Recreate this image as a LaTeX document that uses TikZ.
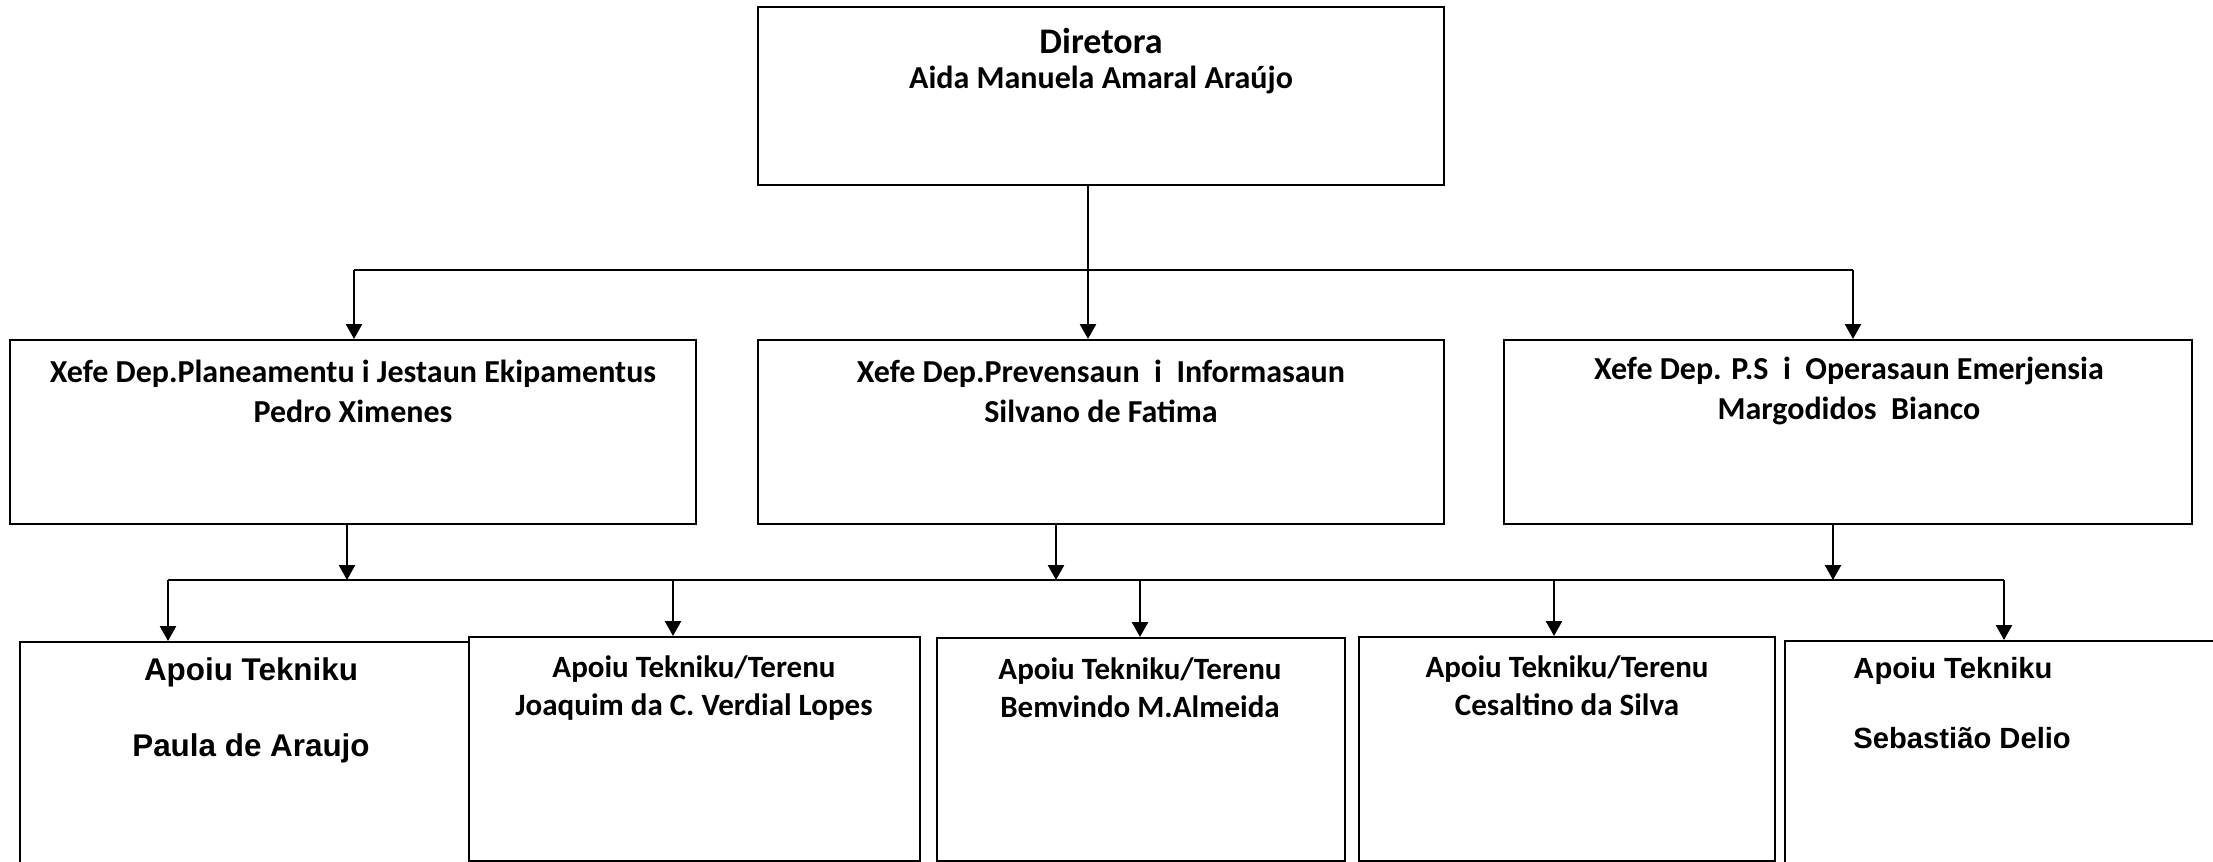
\documentclass[tikz,border=0pt]{standalone}
\usepackage{fontspec}
\setmainfont{Carlito}
\newfontfamily\arialf{Liberation Sans}
\usetikzlibrary{arrows.meta}
\begin{document}
\begin{tikzpicture}[x=0.5pt,y=-0.5pt,
  box/.style={draw, line width=1pt, fill=white, inner sep=0pt},
  conn/.style={line width=1pt},
  arr/.style={line width=1.3pt, -{Triangle[length=7.5pt,width=8pt]}},
  cal/.style={font=\bfseries\fontsize{16}{20}\selectfont, align=center, inner sep=0pt},
  calsm/.style={font=\bfseries\fontsize{15.5}{19}\selectfont, align=center, inner sep=0pt},
  ari/.style={font=\arialf\bfseries, inner sep=0pt}]
\useasboundingbox (0,0) rectangle (2213,862);
\clip (0,0) rectangle (2213,862);
% top
\node[box, minimum width=343pt, minimum height=89pt] (dir) at (1101,96) {};
\node[inner sep=0pt, font=\bfseries\fontsize{18}{20}\selectfont] (dirT) at (1101,41) {Diretora};
\node[cal] (dirN) at (1101,80) {Aida Manuela Amaral Araújo};
% middle
\node[box, minimum width=343pt, minimum height=92pt] (m1) at (353,432) {};
\node[box, minimum width=343pt, minimum height=92pt] (m2) at (1101,432) {};
\node[box, minimum width=344pt, minimum height=92pt] (m3) at (1848,432) {};
\node[cal] (t1) at (353,391) {Xefe Dep.Planeamentu i Jestaun Ekipamentus\\Pedro Ximenes};
\node[cal] (t2) at (1101,391) {Xefe Dep.Prevensaun\ \ i\ \ Informasaun\\Silvano de Fatima};
\node[cal] (t3) at (1849,391) {Xefe Dep. P.S\ \ i\ \ Operasaun Emerjensia\\Margodidos\ \ Bianco};
% bottom
\node[box, minimum width=224.5pt, minimum height=129pt] (b1) at (244.5,771) {};
\node[box, minimum width=225.5pt, minimum height=112pt] (b2) at (694.5,749) {};
\node[box, minimum width=204pt, minimum height=111.5pt] (b3) at (1141,749.5) {};
\node[box, minimum width=208pt, minimum height=112pt] (b4) at (1567,749) {};
\node[box, minimum width=227.5pt, minimum height=129.5pt] (b5) at (2012.5,770.5) {};
\node[ari, align=center, font=\arialf\bfseries\fontsize{15.7}{38}\selectfont] (u1) at (251,710) {Apoiu Tekniku\\Paula de Araujo};
\node[calsm] (u2) at (694,688) {Apoiu Tekniku/Terenu\\Joaquim da C. Verdial Lopes};
\node[calsm] (u3) at (1140,688) {Apoiu Tekniku/Terenu\\Bemvindo M.Almeida};
\node[calsm] (u4) at (1567,686) {Apoiu Tekniku/Terenu\\Cesaltino da Silva};
\node[ari, align=left, anchor=west, font=\arialf\bfseries\fontsize{14.6}{35}\selectfont] (u5) at (1853,703) {Apoiu Tekniku\\Sebastião Delio};
% connectors level 1
\coordinate (k0) at (1088,270);
\coordinate (kL) at (354,270);
\coordinate (kR) at (1853,270);
\draw[conn] (dir.south -| k0) -- (k0);
\draw[conn] (kL) -- (kR);
\draw[arr] (kL) -- (m1.north -| kL);
\draw[arr] (k0) -- (m2.north -| k0);
\draw[arr] (kR) -- (m3.north -| kR);
% connectors level 2
\coordinate (s1) at (347,580);
\coordinate (s2) at (1056,580);
\coordinate (s3) at (1833,580);
\coordinate (bL) at (168,580);
\coordinate (bR) at (2004,580);
\coordinate (d2) at (673,580);
\coordinate (d3) at (1140,580);
\coordinate (d4) at (1554,580);
\draw[arr] (m1.south -| s1) -- (s1);
\draw[arr] (m2.south -| s2) -- (s2);
\draw[arr] (m3.south -| s3) -- (s3);
\draw[conn] (bL) -- (bR);
\draw[arr] (bL) -- (b1.north -| bL);
\draw[arr] (d2) -- (b2.north -| d2);
\draw[arr] (d3) -- (b3.north -| d3);
\draw[arr] (d4) -- (b4.north -| d4);
\draw[arr] (bR) -- (b5.north -| bR);
\end{tikzpicture}
\end{document}
